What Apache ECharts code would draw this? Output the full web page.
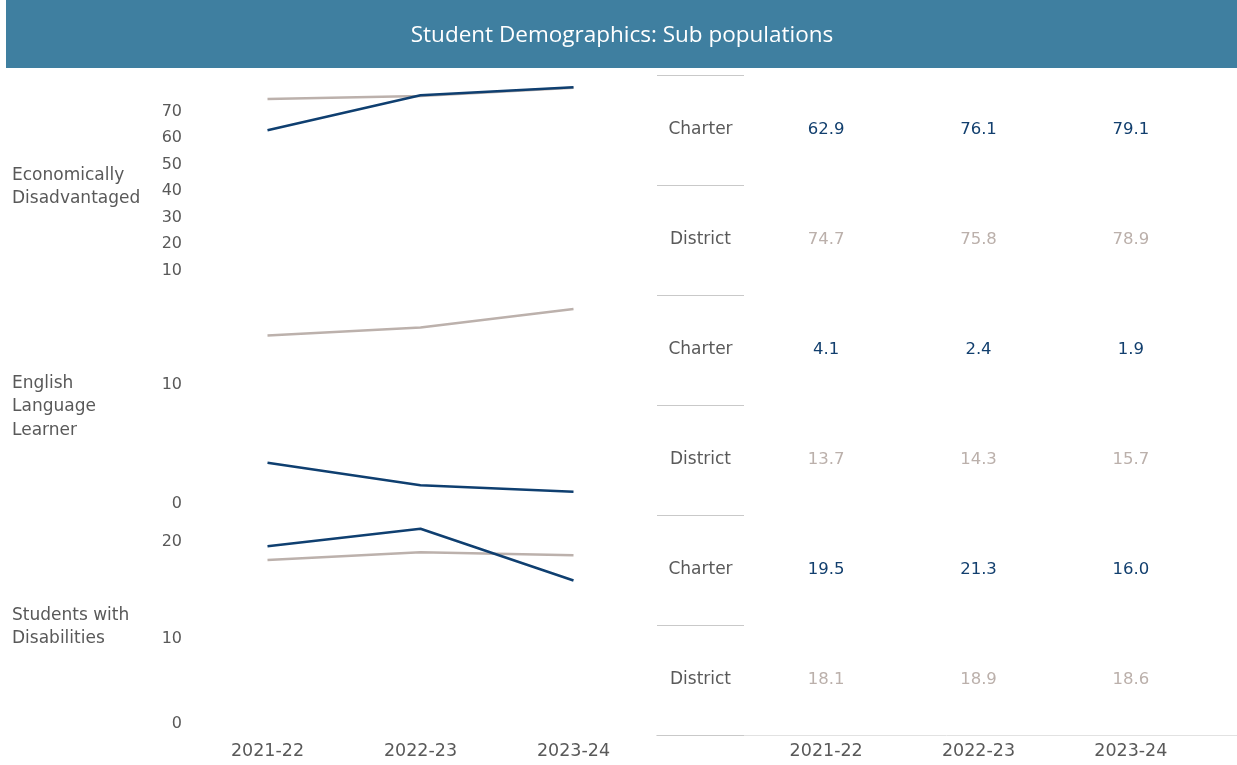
<!DOCTYPE html>
<html>
<head>
<meta charset="utf-8">
<script src="https://cdn.jsdelivr.net/npm/echarts@6/dist/echarts.min.js"></script>
<style>
  html, body { margin: 0; padding: 0; background: #fff; }
  #main { width: 1237px; height: 765px; }
</style>
</head>
<body>
<div id="main"></div>
<script>
// years on the x axis
const years = ['2021-22', '2022-23', '2023-24'];

// sub populations (one line panel each)
const groups = ['Economically\nDisadvantaged', 'English\nLanguage\nLearner', 'Students with\nDisabilities'];

// values per group, per year
const charterEcon = [62.9, 76.1, 79.1];
const districtEcon = [74.7, 75.8, 78.9];
const charterEll = [4.1, 2.4, 1.9];
const districtEll = [13.7, 14.3, 15.7];
const charterSwd = [19.5, 21.3, 16.0];
const districtSwd = [18.1, 18.9, 18.6];

// axis tops and visible tick labels per panel
const axisMax = [83, 16.6, 22.5];
const ticksEcon = [10, 20, 30, 40, 50, 60, 70];
const ticksEll = [0, 10];
const ticksSwd = [0, 10, 20];

// table rows
const rowNames = ['Charter', 'District', 'Charter', 'District', 'Charter', 'District'];

const NAVY = '#0f3f70';
const GRAY = '#bcb1ac';
const NAVY_TXT = '#123f6e';
const GRAY_TXT = '#bbb0ab';
const TXT = '#595959';
const FONT = '"DejaVu Sans", Verdana, sans-serif';
const TITLE_FONT = '"Open Sans", "Noto Sans", sans-serif';

const charterSets = [charterEcon, charterEll, charterSwd];
const districtSets = [districtEcon, districtEll, districtSwd];
const tickSets = [ticksEcon, ticksEll, ticksSwd];

const chart = echarts.init(document.getElementById('main'));

const grids = [];
const xAxes = [];
const yAxes = [];
const series = [];

for (let i = 0; i < 3; i++) {
    grids.push({ left: 191, width: 459, top: 77 + i * 220, height: 220 });
    xAxes.push({
        type: 'category',
        gridIndex: i,
        data: years,
        boundaryGap: true,
        axisLine: { show: false },
        axisTick: { show: false },
        axisLabel: {
            show: i === 2,
            color: TXT,
            fontSize: 17.5,
            fontFamily: FONT,
            margin: 5
        }
    });
    const ticks = tickSets[i];
    yAxes.push({
        type: 'value',
        gridIndex: i,
        min: 0,
        max: axisMax[i],
        interval: 10,
        name: groups[i],
        nameLocation: 'middle',
        nameRotate: 0,
        nameGap: 179,
        nameTextStyle: {
            align: 'left',
            color: TXT,
            fontSize: 17,
            fontFamily: FONT,
            lineHeight: 23.5
        },
        splitLine: { show: false },
        axisLine: { show: false },
        axisTick: { show: false },
        axisLabel: {
            color: TXT,
            fontSize: 16,
            fontFamily: FONT,
            margin: 9,
            showMaxLabel: false,
            formatter: function (v) {
                if (!ticks.includes(v)) return '';
                return v === 0 ? '{zero|0}' : String(v);
            },
            rich: {
                zero: { color: TXT, fontSize: 16, fontFamily: FONT, padding: [0, 0, 27, 0] }
            }
        }
    });
    series.push({
        name: 'District',
        type: 'line',
        xAxisIndex: i,
        yAxisIndex: i,
        data: districtSets[i],
        symbol: 'none',
        lineStyle: { color: GRAY, width: 2.5 },
        z: 2
    });
    series.push({
        name: 'Charter',
        type: 'line',
        xAxisIndex: i,
        yAxisIndex: i,
        data: charterSets[i],
        symbol: 'none',
        lineStyle: { color: NAVY, width: 2.5 },
        z: 3
    });
}

// row header column of the table
grids.push({ left: 657, width: 87, top: 75, height: 660 });
xAxes.push({ type: 'value', gridIndex: 3, min: 0, max: 1, show: false });
yAxes.push({
    type: 'value',
    gridIndex: 3,
    min: 0,
    max: 6,
    interval: 1,
    inverse: true,
    axisLine: { show: false },
    axisTick: { show: false },
    axisLabel: { show: false },
    splitLine: { show: true, lineStyle: { color: '#c9c9c9', width: 1 } }
});
series.push({
    type: 'scatter',
    xAxisIndex: 3,
    yAxisIndex: 3,
    symbolSize: 0,
    silent: true,
    itemStyle: { opacity: 1 },
    data: rowNames.map((r, i) => [0.5, i + 0.5, r]),
    label: {
        show: true,
        position: 'inside',
        formatter: p => p.value[2],
        color: TXT,
        fontSize: 17,
        fontFamily: FONT
    }
});

// value cells of the table
grids.push({ left: 750, width: 457, top: 75, height: 660 });
xAxes.push({
    type: 'category',
    gridIndex: 4,
    data: years,
    axisLine: { show: false },
    axisTick: { show: false },
    axisLabel: { color: TXT, fontSize: 17.5, fontFamily: FONT, margin: 7 }
});
yAxes.push({ type: 'value', gridIndex: 4, min: 0, max: 6, inverse: true, show: false });

function cells(sets, offset) {
    const out = [];
    sets.forEach((vals, g) => {
        vals.forEach((v, j) => out.push([j, g * 2 + offset + 0.5, v]));
    });
    return out;
}

[[charterSets, 0, NAVY_TXT], [districtSets, 1, GRAY_TXT]].forEach(([sets, off, col]) => {
    series.push({
        type: 'scatter',
        xAxisIndex: 4,
        yAxisIndex: 4,
        symbolSize: 0,
        silent: true,
        itemStyle: { opacity: 1 },
        data: cells(sets, off),
        label: {
            show: true,
            position: 'inside',
            formatter: p => p.value[2].toFixed(1),
            color: col,
            fontSize: 16.5,
            fontFamily: FONT
        }
    });
});

chart.setOption({
    animation: false,
    backgroundColor: '#ffffff',
    title: {
        text: 'Student Demographics: Sub populations',
        left: 617,
        textAlign: 'center',
        top: 19,
        textStyle: { color: '#ffffff', fontSize: 22.5, fontWeight: 'normal', fontFamily: TITLE_FONT }
    },
    graphic: [
        { type: 'rect', z: -1, shape: { x: 6, y: 0, width: 1231, height: 68 }, style: { fill: '#3f7fa0' } },
        { type: 'line', z: -1, shape: { x1: 656, y1: 735.5, x2: 1237, y2: 735.5 }, style: { stroke: '#e2e2e2', lineWidth: 1 } }
    ],
    grid: grids,
    xAxis: xAxes,
    yAxis: yAxes,
    series: series
});
</script>
</body>
</html>
